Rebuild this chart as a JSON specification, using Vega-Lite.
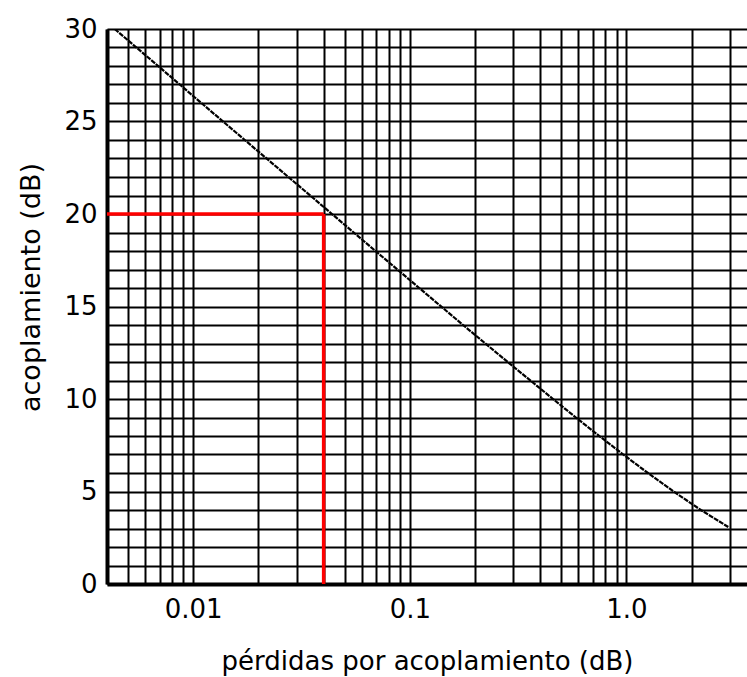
{
  "$schema": "https://vega.github.io/schema/vega-lite/v6.json",
  "autosize": {"type": "none"},
  "padding": {"left": 107, "top": 29, "right": 0, "bottom": 93},
  "width": 640,
  "height": 555,
  "background": "white",
  "config": {
    "view": {"stroke": null},
    "axis": {"labelFont": "DejaVu Sans", "titleFont": "DejaVu Sans", "labelColor": "black", "titleColor": "black", "titleFontWeight": "normal"}
  },
  "datasets": {
    "curve": [
      {"loss": 0.00434, "coupling": 30},
      {"loss": 0.00689, "coupling": 28},
      {"loss": 0.0109, "coupling": 26},
      {"loss": 0.0173, "coupling": 24},
      {"loss": 0.0275, "coupling": 22},
      {"loss": 0.0437, "coupling": 20},
      {"loss": 0.0694, "coupling": 18},
      {"loss": 0.1105, "coupling": 16},
      {"loss": 0.176, "coupling": 14},
      {"loss": 0.283, "coupling": 12},
      {"loss": 0.458, "coupling": 10},
      {"loss": 0.584, "coupling": 9},
      {"loss": 0.749, "coupling": 8},
      {"loss": 0.966, "coupling": 7},
      {"loss": 1.256, "coupling": 6},
      {"loss": 1.651, "coupling": 5},
      {"loss": 2.205, "coupling": 4},
      {"loss": 2.95, "coupling": 3.08}
    ],
    "marker": [
      {"x1": 0.004, "x2": 0.04, "y1": 20, "y2": 20},
      {"x1": 0.04, "x2": 0.04, "y1": 0, "y2": 20}
    ]
  },
  "layer": [
    {
      "data": {"name": "curve"},
      "mark": {"type": "line", "color": "black", "strokeWidth": 2.2, "strokeDash": [5, 1], "clip": true},
      "encoding": {
        "x": {
          "field": "loss", "type": "quantitative",
          "scale": {"type": "log", "domain": [0.004, 3.6], "nice": false},
          "axis": {
            "values": [0.004, 0.005, 0.006, 0.007, 0.008, 0.009, 0.01, 0.02, 0.03, 0.04, 0.05, 0.06, 0.07, 0.08, 0.09, 0.1, 0.2, 0.3, 0.4, 0.5, 0.6, 0.7, 0.8, 0.9, 1, 2, 3],
            "tickCount": 100,
            "labelExpr": "datum.value == 0.01 ? '0.01' : datum.value == 0.1 ? '0.1' : datum.value == 1 ? '1.0' : ''",
            "labelOverlap": false,
            "labelFontSize": 26,
            "labelPadding": 12,
            "ticks": false,
            "grid": true,
            "gridColor": "black",
            "gridWidth": 2,
            "gridOpacity": 1,
            "domain": true,
            "domainColor": "black",
            "domainWidth": 4,
            "title": "pérdidas por acoplamiento (dB)",
            "titleFontSize": 26,
            "titlePadding": 26
          }
        },
        "y": {
          "field": "coupling", "type": "quantitative",
          "scale": {"domain": [0, 30], "nice": false},
          "axis": {
            "values": [0,1,2,3,4,5,6,7,8,9,10,11,12,13,14,15,16,17,18,19,20,21,22,23,24,25,26,27,28,29,30],
            "tickCount": 100,
            "labelExpr": "datum.value % 5 == 0 ? format(datum.value, 'd') : ''",
            "labelOverlap": false,
            "labelFontSize": 26,
            "labelPadding": 10,
            "ticks": false,
            "grid": true,
            "gridColor": "black",
            "gridWidth": 2,
            "gridOpacity": 1,
            "domain": true,
            "domainColor": "black",
            "domainWidth": 4,
            "title": "acoplamiento (dB)",
            "titleFontSize": 27,
            "titleAngle": 270,
            "titleBaseline": "middle",
            "titleAlign": "center",
            "titleX": -76,
            "titleY": 258
          }
        }
      }
    },
    {
      "data": {"name": "marker"},
      "mark": {"type": "rule", "color": "#ff0000", "strokeWidth": 3.5},
      "encoding": {
        "x": {"field": "x1", "type": "quantitative"},
        "x2": {"field": "x2"},
        "y": {"field": "y1", "type": "quantitative"},
        "y2": {"field": "y2"}
      }
    },
    {
      "mark": {"type": "rule", "color": "black", "strokeWidth": 4},
      "encoding": {"y": {"datum": 30, "type": "quantitative"}}
    }
  ]
}
